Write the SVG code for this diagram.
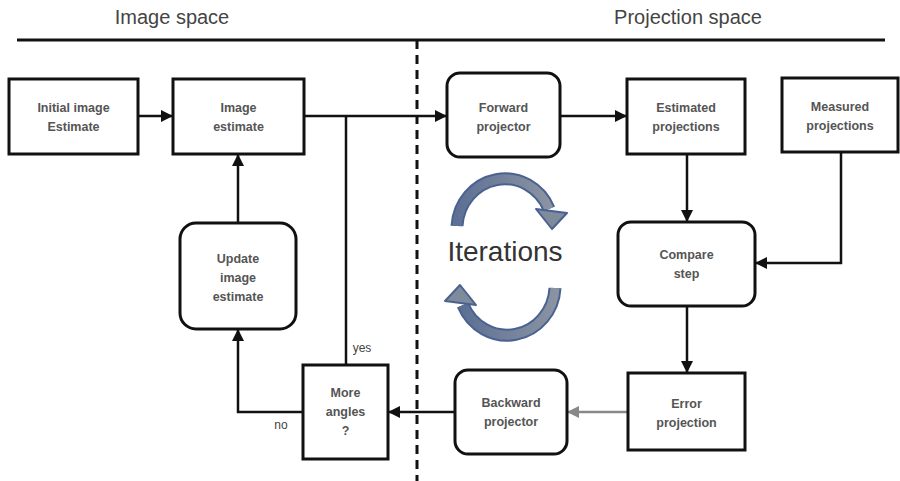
<svg xmlns="http://www.w3.org/2000/svg" width="900" height="481" viewBox="0 0 900 481">
<defs>
<style>
.box{fill:#fff;stroke:#111;stroke-width:3}
.lbl{font-family:"Liberation Sans",Arial,sans-serif;font-weight:bold;font-size:12.5px;fill:#555;text-anchor:middle}
.hdr{font-family:"Liberation Sans",Arial,sans-serif;font-size:20px;fill:#444;text-anchor:middle}
.small{font-family:"Liberation Sans",Arial,sans-serif;font-size:12px;fill:#444;text-anchor:middle}
.ln{fill:none;stroke:#111;stroke-width:2.5}
.arc{fill:none;stroke:#4a6290;stroke-width:13}
.arcin{fill:none;stroke:url(#g);stroke-width:9}
.head{fill:#7f8a9b;stroke:#4a6290;stroke-width:2;stroke-linejoin:round}
</style>
<linearGradient id="g" x1="0" y1="0" x2="1" y2="0">
<stop offset="0" stop-color="#5d7094"/>
<stop offset="1" stop-color="#8a93a2"/>
</linearGradient>
<marker id="ah" markerWidth="12" markerHeight="12" viewBox="0 0 12 12" refX="11" refY="6" orient="auto" markerUnits="userSpaceOnUse">
<path d="M0,0 L12,6 L0,12 z" fill="#111"/>
</marker>
<marker id="ahg" markerWidth="12" markerHeight="12" viewBox="0 0 12 12" refX="11" refY="6" orient="auto" markerUnits="userSpaceOnUse">
<path d="M0,0 L12,6 L0,12 z" fill="#888"/>
</marker>
</defs>
<rect width="900" height="481" fill="#fff"/>

<g id="headers">
<text class="hdr" x="172" y="24">Image space</text>
<text class="hdr" x="688" y="24">Projection space</text>
<line x1="17" y1="40" x2="885" y2="40" stroke="#111" stroke-width="3"/>
<line x1="417" y1="40" x2="417" y2="481" stroke="#111" stroke-width="3" stroke-dasharray="9,6"/>
</g>

<g id="connectors">
<line class="ln" x1="138" y1="116" x2="172" y2="116" marker-end="url(#ah)"/>
<line class="ln" x1="304" y1="116" x2="446" y2="116" marker-end="url(#ah)"/>
<line class="ln" x1="346" y1="116" x2="346" y2="365"/>
<line class="ln" x1="560" y1="116" x2="626" y2="116" marker-end="url(#ah)"/>
<line class="ln" x1="687" y1="154" x2="687" y2="221" marker-end="url(#ah)"/>
<polyline class="ln" points="841,152 841,263 756,263" marker-end="url(#ah)"/>
<line class="ln" x1="687" y1="306" x2="687" y2="372" marker-end="url(#ah)"/>
<line x1="628" y1="412" x2="568" y2="412" stroke="#888" stroke-width="2.5" marker-end="url(#ahg)"/>
<line class="ln" x1="455" y1="412" x2="389" y2="412" marker-end="url(#ah)"/>
<polyline class="ln" points="303,412 238,412 238,330" marker-end="url(#ah)"/>
<line class="ln" x1="238" y1="223" x2="238" y2="155" marker-end="url(#ah)"/>
<text class="small" x="362" y="352">yes</text>
<text class="small" x="281" y="429">no</text>
</g>

<g id="initial">
<rect class="box" x="9" y="79" width="129" height="75"/>
<text class="lbl" x="73.5" y="112">Initial image</text>
<text class="lbl" x="73.5" y="131">Estimate</text>
</g>
<g id="image-estimate">
<rect class="box" x="173" y="79" width="131" height="75"/>
<text class="lbl" x="238.5" y="112">Image</text>
<text class="lbl" x="238.5" y="131">estimate</text>
</g>
<g id="forward">
<rect class="box" x="447" y="73" width="113" height="84" rx="13"/>
<text class="lbl" x="503.5" y="112">Forward</text>
<text class="lbl" x="503.5" y="131">projector</text>
</g>
<g id="estimated">
<rect class="box" x="627" y="79" width="118" height="75"/>
<text class="lbl" x="686" y="112">Estimated</text>
<text class="lbl" x="686" y="131">projections</text>
</g>
<g id="measured">
<rect class="box" x="782" y="78" width="116" height="74"/>
<text class="lbl" x="840" y="111">Measured</text>
<text class="lbl" x="840" y="130">projections</text>
</g>
<g id="compare">
<rect class="box" x="618" y="222" width="137" height="84" rx="13"/>
<text class="lbl" x="686.5" y="259">Compare</text>
<text class="lbl" x="686.5" y="278">step</text>
</g>
<g id="error">
<rect class="box" x="628" y="373" width="117" height="77"/>
<text class="lbl" x="686.5" y="408">Error</text>
<text class="lbl" x="686.5" y="427">projection</text>
</g>
<g id="backward">
<rect class="box" x="455" y="370" width="112" height="84" rx="13"/>
<text class="lbl" x="511" y="407">Backward</text>
<text class="lbl" x="511" y="426">projector</text>
</g>
<g id="more-angles">
<rect class="box" x="303" y="365" width="85" height="94"/>
<text class="lbl" x="345.5" y="397">More</text>
<text class="lbl" x="345.5" y="416">angles</text>
<text class="lbl" x="345.5" y="435">?</text>
</g>
<g id="update">
<rect class="box" x="180" y="223" width="116" height="106" rx="16"/>
<text class="lbl" x="238" y="263">Update</text>
<text class="lbl" x="238" y="282">image</text>
<text class="lbl" x="238" y="301">estimate</text>
</g>

<g id="iterations">
<path class="arc" d="M457,226 A48,50 0 0 1 549,209"/>
<path class="arcin" d="M457,226 A48,50 0 0 1 549,209"/>
<polygon class="head" points="536,209 567,213 552,229"/>
<path class="arc" d="M555,288 A48,50 0 0 1 463,305"/>
<path class="arcin" d="M555,288 A48,50 0 0 1 463,305"/>
<polygon class="head" points="476,305 445,301 460,285"/>
<text x="505" y="261" font-family="'Liberation Sans',Arial,sans-serif" font-size="28" fill="#333" text-anchor="middle">Iterations</text>
</g>
</svg>
